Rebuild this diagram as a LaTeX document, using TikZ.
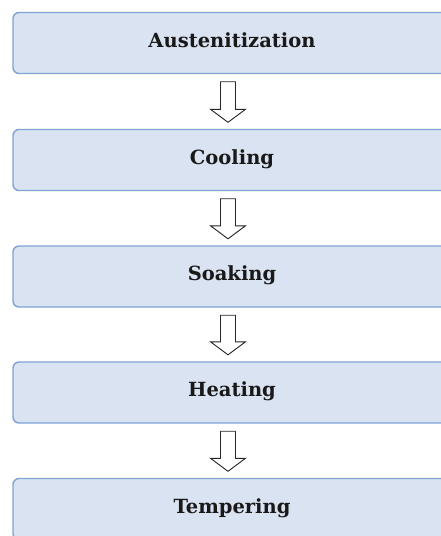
\documentclass[tikz,border=0pt]{standalone}
\usepackage{fontspec}
\setmainfont{DejaVu Serif}
\usetikzlibrary{calc}
\definecolor{boxfill}{HTML}{DAE3F1}
\definecolor{boxline}{HTML}{7FA3D3}
\tikzset{
  stage/.style={draw=boxline, line width=1.4pt, fill=boxfill, rounded corners=6pt,
    minimum width=438pt, minimum height=61pt, inner sep=0pt,
    font=\fontsize{19.5}{22}\selectfont\bfseries, text=black!90,
    text height=14pt, text depth=6pt},
  barrow/.style={draw=black!85, line width=0.9pt, fill=white, line join=miter}
}
\begin{document}
\begin{tikzpicture}[x=1pt,y=-1pt]
\useasboundingbox (0,0) rectangle (441,536);
\clip (0,0) rectangle (441,536);
\node[stage] (b1) at (232,43) {Austenitization};
\node[stage] (b2) at (232,160) {Cooling};
\node[stage] (b3) at (232,276.5) {Soaking};
\node[stage] (b4) at (232,392.5) {Heating};
\node[stage] (b5) at (232,509) {Tempering};
\foreach \a/\b in {b1/b2,b2/b3,b3/b4,b4/b5}{
  \draw[barrow] ($(\a.south)+(-11.5,7.5)$) -- ($(\a.south)+(3.5,7.5)$)
    -- ($(\b.north)+(3.5,-19.5)$) -- ($(\b.north)+(13.5,-19.5)$)
    -- ($(\b.north)+(-4,-6.5)$) -- ($(\b.north)+(-21.5,-19.5)$)
    -- ($(\b.north)+(-11.5,-19.5)$) -- cycle;
}
\end{tikzpicture}
\end{document}
